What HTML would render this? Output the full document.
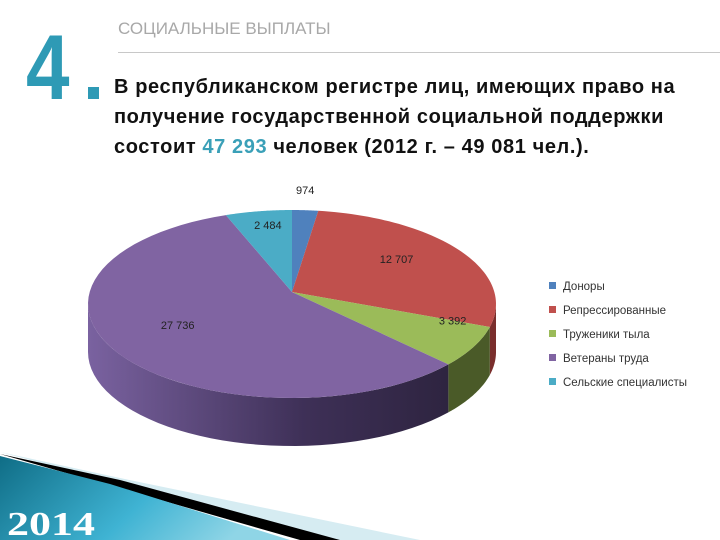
<!DOCTYPE html>
<html><head><meta charset="utf-8"><style>
body{margin:0;width:720px;height:540px;background:#fff;overflow:hidden;position:relative;font-family:"Liberation Sans",sans-serif}
.t{position:absolute;white-space:nowrap}
</style></head><body>
<div class="t" style="left:26px;top:22px;font:bold 92px 'Liberation Sans',sans-serif;color:#2e9ab5;line-height:92px;transform:scaleX(0.85);transform-origin:0 0">4</div>
<div class="t" style="left:118px;top:19px;font-size:17px;color:#a8a8a8">СОЦИАЛЬНЫЕ ВЫПЛАТЫ</div>
<div style="position:absolute;left:118px;top:52px;width:602px;height:1px;background:#c8c8c8"></div>
<div style="position:absolute;left:88px;top:87px;width:11px;height:12px;background:#2e9ab5"></div>
<div style="position:absolute;left:114px;top:72px;font:bold 20px/30px 'Liberation Sans',sans-serif;letter-spacing:0.6px;color:#111;white-space:nowrap">В республиканском регистре лиц, имеющих право на<br>получение государственной социальной поддержки<br>состоит <span style="color:#3aa0b8">47 293</span> человек (2012 г. – 49 081 чел.).</div>
<svg width="720" height="540" style="position:absolute;left:0;top:0">
<defs>
<linearGradient id="tg" x1="0" y1="0" x2="1" y2="0.3"><stop offset="0" stop-color="#0f6d86"/><stop offset="0.6" stop-color="#3fb3d3"/><stop offset="1" stop-color="#8fd5e6"/></linearGradient>
<linearGradient id="sg" x1="0" y1="0" x2="1" y2="0"><stop offset="0" stop-color="#7a62a0"/><stop offset="0.6" stop-color="#3e3057"/><stop offset="1" stop-color="#2e2440"/></linearGradient>
</defs>
<polygon points="0,452 120,478 420,540 330,540" fill="#d6ecf2"/>
<polygon points="0,454 120,480 340,540 300,540" fill="#000"/>
<polygon points="0,456 110,484 290,540 0,540" fill="url(#tg)"/>
<text x="7" y="535" font-family="Liberation Serif,serif" font-weight="bold" font-size="34" textLength="88" lengthAdjust="spacingAndGlyphs" fill="#fff">2014</text>
<g id="pie"></g>
</svg>
<script>
const categories=["Доноры","Репрессированные","Труженики тыла","Ветераны труда","Сельские специалисты"];
const values=[974,12707,3392,27736,2484];
const valueLabels=["974","12 707","3 392","27 736","2 484"];
const colors=["#4f81bd","#c0504d","#9bbb59","#8064a2","#4bacc6"];
const sideColors=["#2d4d73","#7a2e2c","#4a5a28","url(#sg)","#2b6a7a"];
const cx=292,cy=304,rx=204,ry=94,depth=48,apx=292,apy=292;
const NS="http://www.w3.org/2000/svg";
const g=document.getElementById('pie');
function pt(a,dy){return [cx+rx*Math.sin(a),cy-ry*Math.cos(a)+(dy||0)];}
const total=values.reduce((a,b)=>a+b,0);
let acc=0;const ang=[];
values.forEach(v=>{const a0=acc/total*2*Math.PI;acc+=v;ang.push([a0,acc/total*2*Math.PI]);});
ang.forEach(([a0,a1],i)=>{
 const s=Math.max(a0,Math.PI/2),e=Math.min(a1,1.5*Math.PI);
 if(e<=s)return;
 let d="";const n=40;
 for(let k=0;k<=n;k++){const p=pt(s+(e-s)*k/n);d+=(k?"L":"M")+p[0]+","+p[1];}
 for(let k=n;k>=0;k--){const p=pt(s+(e-s)*k/n,depth);d+="L"+p[0]+","+p[1];}
 const el=document.createElementNS(NS,'path');
 
 
 el.setAttribute('d',d+"Z");el.setAttribute('fill',sideColors[i]);g.appendChild(el);
});
ang.forEach(([a0,a1],i)=>{
 let d="M"+apx+","+apy;const n=60;
 for(let k=0;k<=n;k++){const p=pt(a0+(a1-a0)*k/n);d+="L"+p[0]+","+p[1];}
 const el=document.createElementNS(NS,'path');
 
 
 el.setAttribute('d',d+"Z");el.setAttribute('fill',colors[i]);g.appendChild(el);
});
ang.forEach(([a0,a1],i)=>{
 const m=(a0+a1)/2;let x,y;
 if(i===0){const p=pt(m,-16);x=p[0];y=p[1];}
 else{const f=i===4?0.72:0.62;x=apx+rx*f*Math.sin(m);y=apy-ry*f*Math.cos(m)+4;}
 if(i===2){x+=48;y+=2;} if(i===3){x-=10;}
 const t=document.createElementNS(NS,'text');
 
 
 t.setAttribute('x',x);t.setAttribute('y',y);t.setAttribute('text-anchor','middle');
 t.setAttribute('font-size','11');t.setAttribute('font-family','Liberation Sans,sans-serif');t.setAttribute('fill','#222');
 t.textContent=valueLabels[i];g.appendChild(t);
});
categories.forEach((c,i)=>{
 const y=286+i*24;
 const r=document.createElementNS(NS,'rect');
 
 
 r.setAttribute('x',549);r.setAttribute('y',y-4);r.setAttribute('width',7);r.setAttribute('height',7);r.setAttribute('fill',colors[i]);g.appendChild(r);
 const t=document.createElementNS(NS,'text');
 
 
 t.setAttribute('x',563);t.setAttribute('y',y+4);t.setAttribute('font-size','11.5');t.setAttribute('font-family','Liberation Sans,sans-serif');t.setAttribute('fill','#333');
 t.textContent=c;g.appendChild(t);
});
</script>
</body></html>
